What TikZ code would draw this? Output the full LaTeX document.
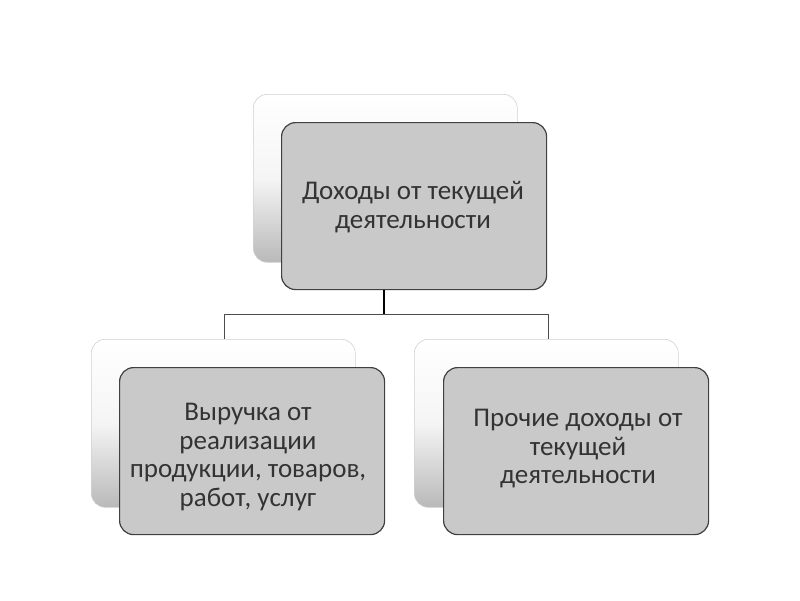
\documentclass[tikz,border=0pt]{standalone}
\usepackage{fontspec}
\setmainfont{Carlito}
\begin{document}
\begin{tikzpicture}[x=1pt,y=-1pt,
  backbox/.style={draw=gray!35, line width=0.6pt, rounded corners=14pt, top color=white, bottom color=gray!55, middle color=gray!8, minimum width=264pt, minimum height=168pt, anchor=north west, inner sep=0pt},
  frontbox/.style={draw=black!75, line width=1.2pt, rounded corners=14pt, fill=gray!42, minimum width=265pt, minimum height=167pt, anchor=north west, inner sep=0pt},
  label/.style={align=center, text=black!80, font=\fontsize{27}{28.5}\selectfont, inner sep=0pt},
  conn/.style={draw=black!70, line width=0.8pt}]
\useasboundingbox (0,0) rectangle (800,600);
% top
\node[backbox] (tb) at (253,94) {};
\node[frontbox] (tf) at (281,122) {};
\node[label] (tt) at (413,207) {Доходы от текущей\\деятельности};
% left
\node[backbox] (lb) at (91,339) {};
\node[frontbox] (lf) at (119,367) {};
\node[label] (lt) at (248,457) {Выручка от\\реализации\\продукции, товаров,\\работ, услуг};
% right
\node[backbox] (rb) at (414,339) {};
\node[frontbox] (rf) at (443,367) {};
\node[label] (rt) at (578,449) {Прочие доходы от\\текущей\\деятельности};
% connectors
\coordinate (j) at (384,314);
\coordinate (jl) at (224,314);
\coordinate (jr) at (548,314);
\draw[draw=black, line width=1.2pt] (tf.south -| j) -- (j);
\draw[conn] (jl) -- (jr);
\draw[conn] (jl) -- (jl |- lb.north);
\draw[conn] (jr) -- (jr |- rb.north);
\end{tikzpicture}
\end{document}
